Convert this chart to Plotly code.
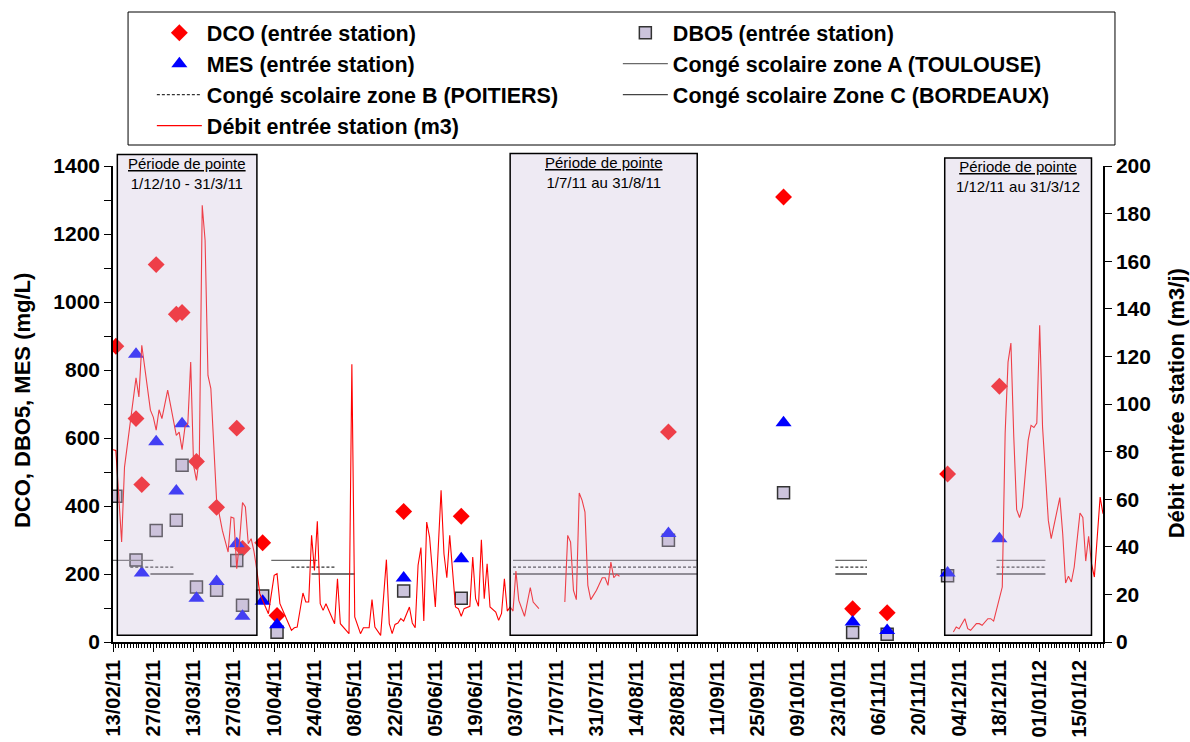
import pandas as pd
import plotly.graph_objects as go

FONT = "Liberation Sans, Arial, sans-serif"

# ---------------- data ----------------
dates_analyses = ["2011-02-14", "2011-02-21", "2011-02-23", "2011-02-28", "2011-03-07",
                  "2011-03-09", "2011-03-14", "2011-03-21", "2011-03-28", "2011-03-30",
                  "2011-04-06", "2011-04-11", "2011-05-25", "2011-06-14", "2011-08-25",
                  "2011-10-04", "2011-10-28", "2011-11-09", "2011-11-30", "2011-12-18"]
dco = [870, 657, 463, 1110, 964, 969, 531, 396, 629, 275,
       292, 78, 384, 370, 618, 1309, 98, 86, 494, 752]
dbo5 = [429, 241, None, 328, 358, 520, 162, 152, 240, 108,
        135, 29, 150, 129, 299, 439, 28, 23, 195, None]
mes = [None, 846, 203, 589, 444, 642, 129, 178, 289, 76,
       120, 51, 188, 245, 319, 645, 59, 34, 203, 304]

debit_dates = [
    "2011-02-13", "2011-02-14", "2011-02-16", "2011-02-17", "2011-02-21", "2011-02-22", "2011-02-23",
    "2011-02-25", "2011-02-26", "2011-02-27", "2011-02-28", "2011-03-01", "2011-03-02", "2011-03-04",
    "2011-03-06", "2011-03-07", "2011-03-08", "2011-03-09", "2011-03-10", "2011-03-11", "2011-03-12",
    "2011-03-13", "2011-03-14", "2011-03-15", "2011-03-16", "2011-03-17", "2011-03-18", "2011-03-19",
    "2011-03-21", "2011-03-23", "2011-03-25", "2011-03-26", "2011-03-27", "2011-03-28", "2011-03-29",
    "2011-03-30", "2011-03-31", "2011-04-01", "2011-04-02", "2011-04-03", "2011-04-04", "2011-04-05",
    "2011-04-08", "2011-04-10", "2011-04-11", "2011-04-12", "2011-04-14", "2011-04-16", "2011-04-17",
    "2011-04-18", "2011-04-20", "2011-04-21", "2011-04-22", "2011-04-23", "2011-04-24", "2011-04-25",
    "2011-04-26", "2011-04-27", "2011-04-28", "2011-05-01", "2011-05-02", "2011-05-03", "2011-05-06",
    "2011-05-07", "2011-05-08", "2011-05-10", "2011-05-11", "2011-05-13", "2011-05-14", "2011-05-15",
    "2011-05-17", "2011-05-19", "2011-05-20", "2011-05-21", "2011-05-22", "2011-05-23", "2011-05-24",
    "2011-05-25", "2011-05-27", "2011-05-28", "2011-05-29", "2011-05-30", "2011-05-31", "2011-06-01",
    "2011-06-02", "2011-06-03", "2011-06-05", "2011-06-07", "2011-06-08", "2011-06-09", "2011-06-10",
    "2011-06-12", "2011-06-13", "2011-06-14", "2011-06-15", "2011-06-17", "2011-06-18", "2011-06-19",
    "2011-06-20", "2011-06-21", "2011-06-22", "2011-06-23", "2011-06-24", "2011-06-26", "2011-06-27",
    "2011-06-28", "2011-06-29", "2011-06-30", "2011-07-01", "2011-07-02", "2011-07-03", "2011-07-04",
    "2011-07-06", "2011-07-08", "2011-07-09", "2011-07-11",
    "2011-07-15",
    "2011-07-20", "2011-07-21", "2011-07-22", "2011-07-23", "2011-07-24", "2011-07-25", "2011-07-26",
    "2011-07-27", "2011-07-28", "2011-07-29", "2011-07-31", "2011-08-02", "2011-08-03", "2011-08-04",
    "2011-08-05", "2011-08-06", "2011-08-07", "2011-08-08",
    "2011-10-01",
    "2011-12-02", "2011-12-03", "2011-12-04", "2011-12-06", "2011-12-07", "2011-12-08", "2011-12-10",
    "2011-12-11", "2011-12-12", "2011-12-14", "2011-12-15", "2011-12-16", "2011-12-19", "2011-12-20",
    "2011-12-21", "2011-12-22", "2011-12-23", "2011-12-24", "2011-12-25", "2011-12-26", "2011-12-27",
    "2011-12-28", "2011-12-29", "2011-12-30", "2011-12-31", "2012-01-01", "2012-01-02", "2012-01-04",
    "2012-01-05", "2012-01-06", "2012-01-07", "2012-01-08", "2012-01-09", "2012-01-10", "2012-01-11",
    "2012-01-12", "2012-01-13", "2012-01-15", "2012-01-16", "2012-01-17", "2012-01-18", "2012-01-19",
    "2012-01-20", "2012-01-21", "2012-01-22", "2012-01-23"]
debit_values = [
    80.8, 80.5, 42, 73.5, 111, 103, 124.7,
    105.8, 97.4, 94.5, 89, 97.6, 93.9, 105.8,
    93, 86.8, 88.2, 80.8, 90.3, 91.8, 117.6,
    74.2, 67.9, 77.7, 183.5, 168.8, 112, 106.5,
    59.5, 46.9, 37.8, 52.5, 52, 30.8, 42.7,
    58.6, 56.7, 41.3, 43.4, 38, 30, 20.3,
    11.9, 28, 28.7, 16.1, 10.5, 4.9, 6,
    6.3, 20.6, 16.8, 16.8, 44.8, 30.1, 50.7,
    16.1, 13.3, 16.1, 7.7, 26.6, 7.7, 3.5,
    116.7, 10.5, 3.5, 6, 6, 17.8, 6.3,
    2.8, 34.6, 7.7, 3.5, 7.4, 8, 9.8,
    8.8, 14.7, 8, 6, 32.2, 39.7, 8.8,
    50.4, 44.1, 14.7, 63.7, 37.1, 27, 44.8,
    14.7, 14, 10.8, 14, 15, 35.7, 18.2,
    15, 43, 18.2, 32.9, 14.7, 12.6, 9.1,
    12, 26.6, 13, 14.7, 13, 29.8, 17.5,
    10.8, 22.9, 16.8, 14,
    None,
    16.8, 44.8, 42, 21.7, 17.8, 62.6, 59.5,
    54.6, 23.8, 17.8, 21.7, 27, 27, 23.8,
    33.6, 27, 28.4, 27.6,
    None,
    4.2, 6.3, 5.6, 9.8, 5.6, 4.9, 7.7,
    7.7, 7, 9.8, 9.8, 8.8, 23.1, 87.6,
    117.6, 125.6, 86.1, 55.6, 52.3, 56.7, 70.8,
    84.7, 91, 90.1, 92, 133.1, 90.3, 51.1,
    43.4, 49.7, 56, 60.7, 45.5, 24.8, 27.6,
    25.2, 31.5, 54.2, 52.3, 34, 44.4, 32.9,
    27.3, 42.7, 60.9, 53.9]

# school holidays (start, end) and the level at which each series is drawn (mg/L)
conges_zone_a = [("2011-02-12", "2011-02-27"), ("2011-04-09", "2011-04-25"), ("2011-07-02", "2011-09-04"),
                 ("2011-10-22", "2011-11-02"), ("2011-12-17", "2012-01-03")]
conges_zone_b = [("2011-02-19", "2011-03-06"), ("2011-04-16", "2011-05-01"), ("2011-07-02", "2011-09-04"),
                 ("2011-10-22", "2011-11-02"), ("2011-12-17", "2012-01-03")]
conges_zone_c = [("2011-02-26", "2011-03-13"), ("2011-04-23", "2011-05-08"), ("2011-07-02", "2011-09-04"),
                 ("2011-10-22", "2011-11-02"), ("2011-12-17", "2012-01-03")]
niveau_a, niveau_b, niveau_c = 240, 220, 200

# peak periods (shaded boxes)
pointe_debut = ["2011-02-14 12:00", "2011-07-01", "2011-11-29"]
pointe_fin = ["2011-04-04", "2011-09-04", "2012-01-19"]
pointe_labels = ["1/12/10 - 31/3/11", "1/7/11 au 31/8/11", "1/12/11 au 31/3/12"]

x_range = ["2011-02-13", "2012-01-23"]


def segments(periods, level):
    xs, ys = [], []
    for s, e in periods:
        xs += [s, e, None]
        ys += [level, level, None]
    return xs, ys


fig = go.Figure()

fig.add_trace(go.Scatter(x=dates_analyses, y=dco, mode="markers", name="DCO (entrée station)",
                         marker=dict(symbol="diamond", size=13, color="#FF0000")))
fig.add_trace(go.Scatter(x=dates_analyses, y=dbo5, mode="markers", name="DBO5 (entrée station)",
                         marker=dict(symbol="square", size=12, color="#CCC4DC",
                                     line=dict(color="#333333", width=1.5))))
fig.add_trace(go.Scatter(x=dates_analyses, y=mes, mode="markers", name="MES (entrée station)",
                         marker=dict(symbol="triangle-up", size=14, color="#0000FF")))

xa, ya = segments(conges_zone_a, niveau_a)
fig.add_trace(go.Scatter(x=xa, y=ya, mode="lines", name="Congé scolaire zone A (TOULOUSE)",
                         line=dict(color="#6a6a6a", width=1.3)))
xb, yb = segments(conges_zone_b, niveau_b)
fig.add_trace(go.Scatter(x=xb, y=yb, mode="lines", name="Congé scolaire zone B (POITIERS)",
                         line=dict(color="#333333", width=1.3, dash="3px,2px")))
xc, yc = segments(conges_zone_c, niveau_c)
fig.add_trace(go.Scatter(x=xc, y=yc, mode="lines", name="Congé scolaire Zone C (BORDEAUX)",
                         line=dict(color="#444444", width=1.3)))

fig.add_trace(go.Scatter(x=debit_dates, y=debit_values, mode="lines", name="Débit entrée station (m3)",
                         yaxis="y2", connectgaps=False, line=dict(color="#FF0000", width=1.1)))

box_tops = [1.024, 1.026, 1.017]
for d0, d1, lab, top in zip(pointe_debut, pointe_fin, pointe_labels, box_tops):
    fig.add_shape(type="rect", xref="x", yref="paper", x0=d0, x1=d1, y0=0.014, y1=top,
                  fillcolor="rgba(204,192,218,0.33)", line=dict(color="black", width=1.5),
                  layer="above")
    mid = pd.Timestamp(d0) + (pd.Timestamp(d1) - pd.Timestamp(d0)) / 2
    fig.add_annotation(x=mid, xref="x", y=top + 0.003, yref="paper", yanchor="top",
                       xanchor="center", text="<u>Période de pointe</u><br>" + lab, showarrow=False,
                       font=dict(family=FONT, size=15, color="black"))

# frame around the legend
fig.add_shape(type="rect", xref="paper", yref="paper", x0=0.0152, x1=1.0121, y0=1.0441, y1=1.3235,
              fillcolor="white", line=dict(color="black", width=1), layer="below")

fig.add_annotation(x=-0.092, xref="paper", y=0.508, yref="paper", text="DCO, DBO5, MES (mg/L)",
                   textangle=-90, showarrow=False, xanchor="center", yanchor="middle",
                   font=dict(family=FONT, size=22, color="black", weight="bold"))
fig.add_annotation(x=1.074, xref="paper", y=0.502, yref="paper", text="Débit entrée station (m3/j)",
                   textangle=-90, showarrow=False, xanchor="center", yanchor="middle",
                   font=dict(family=FONT, size=22, color="black", weight="bold"))

tickfont = dict(family=FONT, size=21, color="black", weight="bold")

fig.update_layout(
    width=1190, height=742,
    margin=dict(l=113, r=87, t=166, b=100, autoexpand=False),
    paper_bgcolor="white", plot_bgcolor="white",
    font=dict(family=FONT, color="black"),
    showlegend=True,
    legend=dict(orientation="h", x=0.015, xanchor="left", y=1.323, yanchor="top",
                borderwidth=0, bgcolor="rgba(0,0,0,0)",
                font=dict(family=FONT, size=21.5, color="black", weight="bold"),
                entrywidth=382, entrywidthmode="pixels", itemwidth=45, indentation=24,
                tracegroupgap=0),
    xaxis=dict(type="date", range=x_range, tick0="2011-02-13", dtick=14 * 86400000,
               tickformat="%d/%m/%y", tickangle=-90, automargin=False,
               tickfont=dict(family=FONT, size=20, color="black", weight="bold"),
               ticks="outside", ticklen=8, tickcolor="black", tickwidth=1,
               minor=dict(dtick=86400000, ticks="outside", ticklen=4, tickcolor="black", tickwidth=1),
               showline=True, linecolor="black", linewidth=1.5, showgrid=False, zeroline=False),
    yaxis=dict(range=[0, 1400], tickvals=list(range(0, 1401, 200)), tickfont=tickfont,
               automargin=False,
               ticks="outside", ticklen=7, tickcolor="black", tickwidth=1,
               minor=dict(dtick=100, ticks="outside", ticklen=7, tickcolor="black"),
               showline=True, linecolor="black", linewidth=1.5, showgrid=False, zeroline=False),
    yaxis2=dict(range=[0, 200], dtick=20, overlaying="y", side="right", tickfont=tickfont,
                automargin=False,
                ticks="outside", ticklen=7, tickcolor="black", tickwidth=1,
                showline=True, linecolor="black", linewidth=1.5, showgrid=False, zeroline=False),
)

fig.write_html("out.html", config={"displayModeBar": False},
               post_script="document.body.style.margin='0';document.body.style.overflow='hidden';")
